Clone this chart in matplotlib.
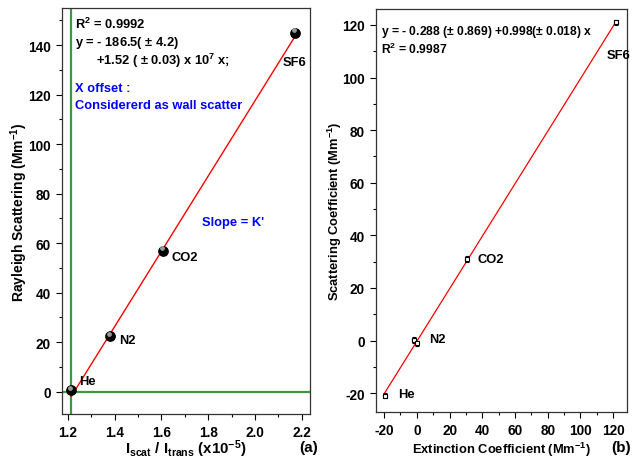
import numpy as np
import matplotlib.pyplot as plt
from matplotlib.ticker import MultipleLocator

plt.rcParams['font.family'] = ['Liberation Sans', 'DejaVu Sans']
plt.rcParams['font.weight'] = 'bold'
plt.rcParams['axes.unicode_minus'] = False
plt.rcParams['mathtext.fontset'] = 'custom'
plt.rcParams['mathtext.rm'] = 'Liberation Sans:bold'
plt.rcParams['mathtext.it'] = 'Liberation Sans:bold'
plt.rcParams['mathtext.bf'] = 'Liberation Sans:bold'

# (a) Rayleigh scattering vs I_scat / I_trans
gases_a = ['He', 'N2', 'CO2', 'SF6']
ratio = [1.215, 1.38, 1.608, 2.17]          # x10^-5
rayleigh = [0.5, 22.5, 57.0, 145.0]          # Mm^-1
fit_a = (-186.5, 152.0)                      # intercept, slope (per 1e-5)
x_offset = 1.215

# (b) scattering vs extinction coefficient
gases_b = ['He', 'N2', 'N2', 'CO2', 'SF6']
ext = [-19.5, -1.8, 0.0, 30.5, 122.0]
scat = [-21.0, 0.2, -1.0, 31.0, 121.0]
ext_err = [1.0, 1.0, 1.0, 1.0, 1.0]
scat_err = [1.0, 1.0, 1.0, 1.0, 1.0]
fit_b = (-0.288, 0.998)

GREEN = '#3c9a3c'
FS = 9.3
TICK_FS = 9.8

fig = plt.figure(figsize=(6.34, 4.6), dpi=100)
ax1 = fig.add_axes([0.0978, 0.0978, 0.391, 0.8826])
ax2 = fig.add_axes([0.593, 0.102, 0.396, 0.876])

def style(ax):
    ax.tick_params(which='both', direction='out', top=False, right=False, labelsize=TICK_FS, width=0.8)
    ax.tick_params(which='major', length=4.5)
    ax.tick_params(which='minor', length=2.5)
    for s in ax.spines.values():
        s.set_linewidth(0.9)
        s.set_color('#333333')
    for lab in ax.get_xticklabels() + ax.get_yticklabels():
        lab.set_fontweight('bold')

# ---- panel (a)
ax1.axvline(x_offset, color=GREEN, lw=1.6, zorder=1)
ax1.axhline(0, color=GREEN, lw=1.6, zorder=1)
xf = np.array([ratio[0], ratio[-1]])
ax1.plot(xf, fit_a[0] + fit_a[1] * xf, color='red', lw=1.0, zorder=2)
ax1.scatter(ratio, rayleigh, s=45, color='black', zorder=3)
ax1.scatter(np.array(ratio) - 0.005, np.array(rayleigh) + 1.0, s=6, color='#999999', zorder=4)
offs_a = [(8, 9), (9, -4), (8, -6), (-12, -29)]
for g, x, y, o in zip(gases_a, ratio, rayleigh, offs_a):
    ax1.annotate(g, (x, y), xytext=o, textcoords='offset pixels', fontsize=FS,
                 fontweight='bold', va='center', ha='left')
ax1.set_xlim(1.175, 2.235)
ax1.set_ylim(-9, 155)
ax1.xaxis.set_major_locator(MultipleLocator(0.2))
ax1.xaxis.set_minor_locator(MultipleLocator(0.1))
ax1.yaxis.set_major_locator(MultipleLocator(20))
ax1.yaxis.set_minor_locator(MultipleLocator(10))
ax1.xaxis.set_major_formatter(plt.FuncFormatter(lambda v, p: f'{v:.1f}'))
style(ax1)
ax1.set_ylabel('Rayleigh Scattering (Mm$^{-1}$)', fontsize=10, fontweight='bold', va='center')
ax1.yaxis.set_label_coords(-0.172, 0.5)
ax1.set_xlabel('I$_{scat}$ / I$_{trans}$ (x10$^{-5}$)', fontsize=10.8, fontweight='bold', va='baseline')
ax1.xaxis.set_label_coords(0.5, -0.097)
ax1.text(0.052, 0.963, 'R$^2$ = 0.9992', transform=ax1.transAxes, fontsize=FS, va='center')
ax1.text(0.052, 0.916, 'y = - 186.5( $\\pm$ 4.2)', transform=ax1.transAxes, fontsize=FS, va='center')
ax1.text(0.137, 0.872, '+1.52 ( $\\pm$ 0.03) x 10$^7$ x;', transform=ax1.transAxes, fontsize=FS, va='center')
ax1.text(0.052, 0.803, 'X offset :', transform=ax1.transAxes, fontsize=FS, va='center', color='blue')
ax1.text(0.052, 0.761, 'Considererd as wall scatter', transform=ax1.transAxes, fontsize=FS,
         va='center', color='blue')
ax1.text(0.565, 0.473, "Slope = K'", transform=ax1.transAxes, fontsize=FS, va='center', color='blue')
fig.text(299 / 634, 1 - 448 / 460, '(a)', fontsize=11, fontweight='bold', va='center', ha='left')

# ---- panel (b)
xf = np.array([-20, ext[-1]])
ax2.plot(xf, fit_b[0] + fit_b[1] * xf, color='red', lw=0.9, zorder=2)
ax2.errorbar(ext, scat, xerr=ext_err, yerr=scat_err, fmt='s', ms=3.2, mfc='white', mec='black',
             mew=0.8, ecolor='black', elinewidth=0.8, capsize=1.5, zorder=3)
offs_b = [(13, 2), (15, 1), None, (11, 0), (-10, -33)]
for g, x, y, o in zip(gases_b, ext, scat, offs_b):
    if o is None:
        continue
    ax2.annotate(g, (x, y), xytext=o, textcoords='offset pixels', fontsize=FS,
                 fontweight='bold', va='center', ha='left')
ax2.set_xlim(-25, 128.5)
ax2.set_ylim(-27.2, 126)
ax2.xaxis.set_major_locator(MultipleLocator(20))
ax2.xaxis.set_minor_locator(MultipleLocator(10))
ax2.yaxis.set_major_locator(MultipleLocator(20))
ax2.yaxis.set_minor_locator(MultipleLocator(10))
style(ax2)
ax2.set_ylabel('Scattering Coefficient (Mm$^{-1}$)', fontsize=9.3, fontweight='bold', va='center')
ax2.yaxis.set_label_coords(-0.163, 0.5)
ax2.set_xlabel('Extinction Coefficient (Mm$^{-1}$)', fontsize=9.3, fontweight='bold', va='baseline')
ax2.xaxis.set_label_coords(0.5, -0.101)
ax2.text(0.02, 0.945, 'y = - 0.288 ($\\pm$ 0.869) +0.998($\\pm$ 0.018) x', transform=ax2.transAxes,
         fontsize=8.7, va='center')
ax2.text(0.02, 0.903, 'R$^2$ = 0.9987', transform=ax2.transAxes, fontsize=8.7, va='center')
fig.text(611 / 634, 1 - 448 / 460, '(b)', fontsize=11, fontweight='bold', va='center', ha='left')

fig.savefig('out.png', dpi=100)
